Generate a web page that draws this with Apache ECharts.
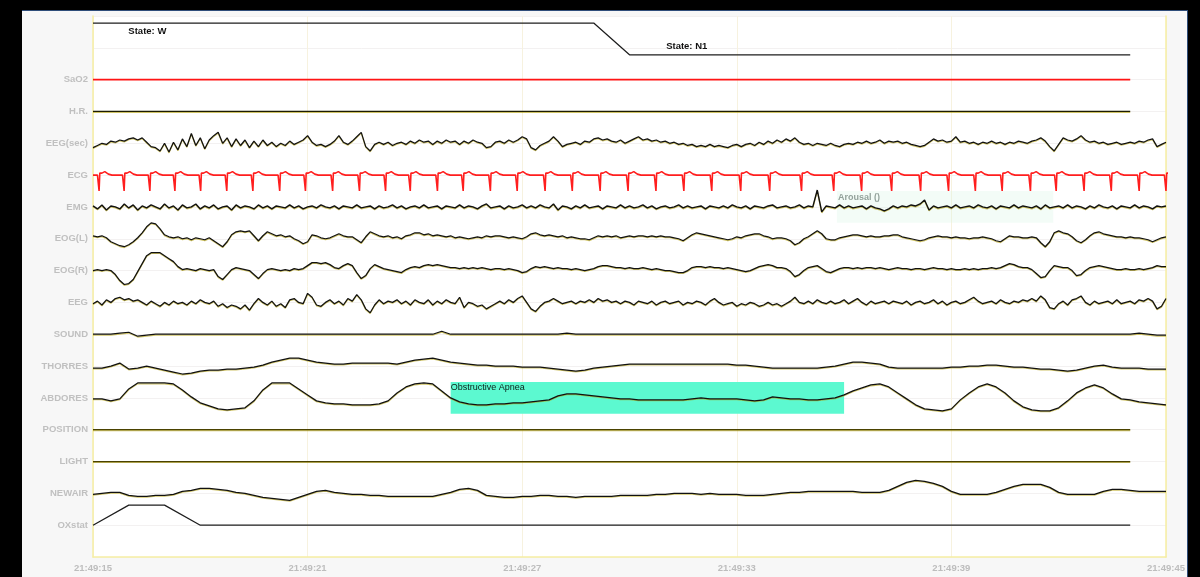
<!DOCTYPE html>
<html>
<head>
<meta charset="utf-8">
<script src="https://cdn.jsdelivr.net/npm/echarts@6/dist/echarts.min.js"></script>
<style>
  html, body { margin: 0; padding: 0; background: #000; width: 1200px; height: 577px; overflow: hidden; }
  #panel { position: absolute; left: 22px; top: 10px; width: 1166px; height: 567px; background: #f7f7f7;
           border-top: 1px solid #2f4d7a; border-right: 1px solid #2f4d7a; box-sizing: border-box; }
  #chart { position: absolute; left: 0; top: 0; width: 1188px; height: 577px; }
</style>
</head>
<body>
<div id="panel"></div>
<div id="chart"></div>
<script>
// ---- Recording window: 30 s epoch starting 21:49:15 ----
const epochStart = '21:49:15';
const epochSeconds = 30;
const timeTicks = [0, 6, 12, 18, 24, 30];

// Channel montage, top to bottom
const channelNames = ['SaO2', 'H.R.', 'EEG(sec)', 'ECG', 'EMG', 'EOG(L)', 'EOG(R)', 'EEG',
  'SOUND', 'THORRES', 'ABDORES', 'POSITION', 'LIGHT', 'NEWAIR', 'OXstat'];

// ---- 1 Hz channels (t = 0..29 s) ----
const sleepStage = ['W','W','W','W','W','W','W','W','W','W','W','W','W','W','W',
  'N1','N1','N1','N1','N1','N1','N1','N1','N1','N1','N1','N1','N1','N1','N1'];
const sao2 = [97,97,97,97,97,97,97,97,97,97,97,97,97,97,97,97,97,97,97,97,97,97,97,97,97,97,97,97,97,97];
const heartRate = [72,72,72,72,72,72,72,72,72,72,72,72,72,72,72,72,72,72,72,72,72,72,72,72,72,72,72,72,72,72];
const bodyPosition = [0,0,0,0,0,0,0,0,0,0,0,0,0,0,0,0,0,0,0,0,0,0,0,0,0,0,0,0,0,0];
const lightLevel = [0,0,0,0,0,0,0,0,0,0,0,0,0,0,0,0,0,0,0,0,0,0,0,0,0,0,0,0,0,0];
const oxStatus = [0,1,1,0,0,0,0,0,0,0,0,0,0,0,0,0,0,0,0,0,0,0,0,0,0,0,0,0,0,0];

// ---- ECG: R-peak times (s) ----
const ecgBeats = [0.17,0.87,1.59,2.29,3.01,3.74,4.47,5.22,5.94,6.70,7.45,8.18,8.87,9.63,
  10.35,11.11,11.86,12.64,13.40,14.18,14.96,15.74,16.52,17.30,18.11,18.92,19.81,20.71,
  21.49,22.33,23.14,23.92,24.67,25.42,26.21,26.93,27.71,28.47,29.25,30.00];

// ---- 8 Hz display samples (241 points, 0..30 s) ----
const eegSec = [
  -4,-2,0,-1,2,1,3,2,4,5, 3,5,1,-3,-4,-7,0,-8,1,-6, 4,-3,9,-2,5,-5,3,7,10,0,
  5,-3,4,-2,3,-4,2,-3,3,-2, 1,-3,0,-2,2,-1,1,3,7,1, -2,-1,-3,-1,2,7,1,-1,2,6,
  10,-3,-7,-1,1,-1,1,-2,0,1, -1,2,0,3,1,2,-1,2,0,3, 1,2,-1,2,0,3,1,0,-4,-3,
  1,2,0,3,1,3,6,4,-4,-6, -2,0,2,6,2,-3,-1,0,1,-1, 2,1,4,5,3,4,2,1,3,0,
  2,4,6,3,4,2,3,1,2,0, 1,-1,0,-2,-1,-3,-2,-3,-1,-3, -2,-3,-4,-2,-1,-3,-1,0,-2,1,
  -1,2,0,3,1,4,2,5,1,-1, 0,-2,0,-1,-2,0,-2,-3,-1,0, -1,1,0,2,0,1,3,0,2,1,
  2,0,1,-1,-2,-3,-2,1,4,2, 3,1,2,6,1,2,0,1,-1,1, 0,2,0,1,-1,1,0,2,1,0,
  2,3,5,2,-3,-7,-1,5,3,2, 4,7,3,1,2,0,1,-1,0,1, -1,0,1,0,2,1,3,4,-3,-1,1];

const emg = [
  1,-2,2,-3,1,0,-2,3,-1,2, -3,1,-1,2,0,-2,3,-1,1,-3, 2,-1,0,3,-2,1,-1,2,-2,0,
  1,-3,2,-1,1,0,-2,2,-1,1, -2,1,0,-1,2,-1,1,-2,0,1, -1,2,0,-1,1,-2,1,0,-1,2,
  -1,0,1,-2,1,-1,0,2,-1,1, -2,0,1,-1,2,-1,0,1,-2,1, 0,-1,2,-1,1,0,-2,1,3,-1,
  0,1,-2,1,-1,0,2,-1,1,-1, 2,0,-1,3,-3,1,0,-2,1,-1, 2,-1,0,1,-2,1,0,-1,2,-1,
  1,-1,0,2,-1,1,-2,0,1,-1, 0,2,-1,1,-1,0,1,-2,1,0, -1,1,-1,2,0,-1,1,-2,1,0,
  -1,1,2,-1,0,1,-1,0,2,-1, 1,0,17,-5,1,0,-1,2,-1,1, -1,0,1,-2,1,-1,-2,-4,-2,1,
  -1,1,0,2,1,3,7,-3,1,-1, 0,1,-1,2,-1,0,1,-1,2,0, -1,1,-2,1,0,-1,2,-1,1,0,
  -1,1,-2,2,-1,0,1,-1,2,-1, 1,0,-2,1,-1,2,0,-1,1,-2,1,0,-1,2,-1,1,0,-2,1,0,1];

const eogL = [
  3,2,3,1,-3,-5,-7,-8,-6,-3, 1,6,12,16,15,10,4,2,1,2, 0,1,-1,1,0,-1,1,-2,-5,-8,
  -3,4,7,8,7,8,3,-2,3,7, 5,3,4,2,3,0,-2,-5,-3,4, 3,1,0,1,3,5,3,2,2,-1,
  -4,2,7,5,3,2,3,1,2,0, 3,4,6,6,4,5,3,4,3,2, 3,1,2,1,0,1,2,1,3,2,
  3,3,2,1,2,1,0,2,5,6, 4,3,4,3,2,3,1,2,1,0, 0,-1,1,3,2,3,2,3,1,2,
  3,2,3,3,2,3,2,3,2,2, 1,0,-2,1,4,6,5,4,3,2, 1,0,-1,0,2,1,3,4,5,5,
  3,2,0,1,1,0,-2,-6,-4,0, 2,5,8,5,0,-1,-1,1,2,3, 4,4,3,2,3,2,2,3,3,4,
  4,2,1,0,-1,-2,-1,1,2,3, 2,2,1,2,1,1,0,1,1,2, 1,0,-2,-3,0,3,2,2,1,1,
  2,1,-4,-8,-3,6,8,6,5,2, -2,-4,-1,3,6,7,5,4,3,2, 2,1,2,1,1,0,-1,-3,-1,1,2];

const eogR = [
  0,1,0,1,0,-4,-10,-14,-13,-9, -1,7,15,18,18,18,15,12,9,4, 1,2,1,0,2,1,0,1,-6,-9,
  -4,1,3,2,1,0,-4,-8,-3,1, 2,1,0,1,0,2,1,2,5,8, 8,7,8,6,3,2,5,7,5,-2,
  -8,-5,2,6,4,2,1,0,-1,-2, 1,3,4,3,5,6,5,6,5,4, 3,3,2,3,2,3,2,3,2,1,
  2,2,1,2,1,0,-2,-1,2,4, 3,4,3,2,3,2,2,1,2,1, 0,1,2,4,5,5,4,3,3,2,
  3,2,2,3,2,1,2,1,0,0, -1,-2,-2,0,3,4,4,3,4,3, 3,2,3,2,1,0,-1,0,2,4,
  5,6,5,3,3,2,-1,-6,-4,0, 3,4,5,2,-1,-2,0,2,3,3, 2,3,2,3,3,2,3,2,1,2,
  3,2,2,1,2,2,1,2,3,2, 2,1,2,1,1,2,1,2,1,2, 2,3,2,3,5,7,6,4,3,3,
  1,-3,-7,-6,0,5,4,3,3,0, -5,-4,0,3,4,5,4,3,2,1, 1,2,1,1,2,1,2,3,5,4,4];

const eeg = [
  -1,1,-2,2,0,3,4,2,3,1, 2,0,-2,1,-1,-3,0,-2,1,-1, 0,-2,1,-1,2,0,-1,1,-3,-1,
  -4,-2,-3,-5,-2,-6,-1,3,0,-2, 1,-3,-1,-4,2,3,0,-1,7,4, -2,-3,0,2,-1,1,-2,3,1,6,
  2,-5,-8,-2,2,-1,1,0,2,-1, 1,-2,2,0,-1,2,-2,1,-1,2, 0,-1,4,-4,0,-1,-3,-2,-5,-3,
  -1,1,-1,2,0,3,5,0,-5,-7, -3,0,1,3,1,-1,0,1,-1,1, 0,2,0,3,1,2,0,1,-1,1,
  0,-2,1,0,-1,1,-2,0,1,-1, 0,1,-2,0,-1,1,0,-2,1,3, 0,-2,-1,0,-3,-1,-2,0,-1,-3,
  -2,0,-2,-1,-3,-1,1,4,0,-1, 1,-1,2,0,-1,1,-1,0,2,-1, 1,3,0,-2,1,-1,0,1,-1,1,
  0,-1,1,-2,0,1,-1,0,2,-1, 1,-2,0,1,-1,0,2,4,1,-1, 0,1,-1,2,0,-1,1,0,2,1,
  3,1,5,2,-4,-5,-1,1,-2,2, 3,5,0,-2,1,-1,0,1,-1,2, -1,0,1,-1,2,1,3,1,-5,-3,3];

// ---- 4 Hz display samples (121 points, 0..30 s) ----
const sound = [
  0,0,0,1,2,-2,-1,0,0,0, 0,0,0,0,0,0,0,0,0,0, 0,0,0,0,0,0,0,0,0,0,
  0,0,0,0,0,0,0,0,0,3, 0,0,0,0,0,0,0,0,0,0, 0,0,0,1,0,0,0,0,0,0,
  0,0,0,0,0,0,0,0,0,0, 0,0,0,0,0,0,0,0,0,0, 0,0,0,0,0,0,0,0,0,0,
  0,0,0,0,0,0,0,0,0,0, 0,0,0,0,0,0,0,0,0,0, 0,0,0,0,0,0,0,1,0,-1, -1];

const thorRes = [
  -2,-2,0,3,-3,-2,0,-2,-4,-6, -8,-7,-5,-4,-4,-3,-3,-2,-1,1, 4,6,8,8,6,4,3,2,2,3,
  3,3,3,3,2,4,6,7,8,6, 4,3,2,1,1,0,0,0,-1,-1, -1,-2,-3,-4,-5,-4,-2,-1,0,1,
  2,2,2,2,2,2,2,2,2,2, 2,2,1,1,0,-1,-2,-2,-2,-2, -2,-2,-1,0,2,4,4,3,2,-1,
  -2,-2,-2,-2,-2,-2,-1,-1,0,0, 1,1,0,-1,-1,-2,-3,-3,-4,-5, -4,-2,0,1,-1,-2,-2,-2,-3,-3, -3];

const abdRes = [
  -1,-1,-3,-1,9,15,15,15,15,14, 8,1,-5,-8,-11,-12,-11,-10,-3,8, 15,15,15,9,3,-3,-5,-6,-6,-7,
  -7,-7,-6,-3,5,11,14,15,14,7, 0,-4,-6,-7,-7,-6,-6,-5,-5,-4, -3,-2,2,4,4,3,2,1,0,-1,
  -1,-2,-2,-2,-2,-2,-2,-1,0,-1, -1,-1,-1,-2,-3,-2,1,0,-1,-1, -2,-2,-1,0,3,7,10,13,14,11,
  5,-1,-7,-11,-12,-13,-11,-2,5,11, 14,11,5,-3,-9,-12,-13,-13,-10,-3, 5,10,13,10,4,-1,-2,-4,-5,-6, -7];

const newAir = [
  -1,0,1,1,-2,-3,-3,-2,-2,-1, 2,3,5,5,4,3,1,0,-2,-4, -5,-6,-7,-4,-1,2,3,1,0,-1,
  -1,-2,-2,-3,-3,-3,-3,-3,-3,-1, 1,4,5,3,-2,-3,-4,-4,-3,-3, -2,-2,-3,-3,-4,-3,-3,-3,-3,-2,
  -2,-2,-2,-1,-1,0,0,0,-1,0, -1,-1,-1,-2,-2,-2,-1,0,1,1, 2,2,2,2,2,2,1,1,1,3,
  7,11,13,12,10,7,2,-1,-1,-1, -1,1,4,7,9,9,9,6,1,-1, -1,-1,-1,2,4,4,3,2,2,2, 2];

// ---- Scored events (start, end in s) ----
const apneaEvent = { label: 'Obstructive Apnea', start: 10.0, end: 21.0 };
const arousalEvent = { label: 'Arousal ()', start: 20.8, end: 26.85 };

// ---------------------------------------------------------------
const FONT = '"Liberation Sans", Arial, sans-serif';
const UNIT = 1 / 32;                      // trace units per row
const rowOf = name => channelNames.length - channelNames.indexOf(name);
const stageY = { W: 16.78, N1: 15.78 };   // hypnogram band above the channels

function clock(t) {
  const [h, m, s] = epochStart.split(':').map(Number);
  let tot = h * 3600 + m * 60 + s + Math.round(t);
  const p = n => String(n).padStart(2, '0');
  return p(Math.floor(tot / 3600) % 24) + ':' + p(Math.floor(tot / 60) % 60) + ':' + p(tot % 60);
}
function trace(values, step, name, gain) {
  const row = rowOf(name);
  return values.map((v, i) => [i * step, row + v * UNIT * (gain || 1)]);
}
function ecgTrace() {
  // beat morphology (time offset s, amplitude) drawn around each R time
  const shape = [[-0.045, 0], [-0.015, 1.5], [0, -16], [0.02, 2], [0.08, 2], [0.16, 3.5], [0.26, 1], [0.36, 0]];
  const row = rowOf('ECG');
  const pts = [[0, row]];
  ecgBeats.forEach(b => shape.forEach(([dt, a]) => pts.push([b + dt, row + a * UNIT])));
  return pts.filter(p => p[0] >= 0);
}

const inkStyle = {
  color: '#111111', width: 1.25,
  shadowColor: 'rgba(175,155,0,0.6)', shadowBlur: 0, shadowOffsetX: 0, shadowOffsetY: 0.8
};
function line(name, data, style, extra) {
  return Object.assign({
    name, type: 'line', data, showSymbol: false, symbol: 'none', silent: true,
    lineStyle: Object.assign({}, inkStyle, style || {}), z: 3
  }, extra || {});
}
function eventArea(ev, channel, fill, labelStyle) {
  return {
    silent: true,
    itemStyle: { color: fill },
    label: Object.assign({ show: true, position: 'insideTopLeft', fontSize: 9, fontFamily: FONT }, labelStyle),
    data: [[{ name: ev.label, xAxis: ev.start, yAxis: rowOf(channel) + 0.5 },
            { xAxis: ev.end, yAxis: rowOf(channel) - 0.5 }]]
  };
}

const series = [
  line('State', sleepStage.map((s, i) => [i, stageY[s]]), { color: '#1e1e1e', shadowColor: 'transparent' }, {
    markPoint: {
      symbol: 'circle', symbolSize: 0, silent: true,
      label: { show: true, formatter: p => p.name, color: '#111', fontSize: 9.5, fontWeight: 'bold', fontFamily: FONT },
      data: [
        { name: 'State: W', coord: [1.52, 16.53] },
        { name: 'State: N1', coord: [16.6, 16.04] }
      ]
    }
  }),
  line('SaO2', sao2.map((v, i) => [i, rowOf('SaO2') + (v - 97) * 0.1]), { color: '#ff1414', width: 1.6, shadowColor: 'transparent' }),
  line('H.R.', heartRate.map((v, i) => [i, rowOf('H.R.') + (v - 72) * 0.05]), { color: '#1c1c00' }),
  line('EEG(sec)', trace(eegSec, 0.125, 'EEG(sec)', 1.1), {}),
  line('ECG', ecgTrace(), { color: '#ff1e1e', width: 1.6, shadowColor: 'transparent' }),
  line('EMG', trace(emg, 0.125, 'EMG'), { width: 1.4 }, {
    markArea: eventArea(arousalEvent, 'EMG', 'rgba(214,244,228,0.3)',
      { color: '#93a29b', fontWeight: 'bold', offset: [-4, -3] })
  }),
  line('EOG(L)', trace(eogL, 0.125, 'EOG(L)'), {}),
  line('EOG(R)', trace(eogR, 0.125, 'EOG(R)'), {}),
  line('EEG', trace(eeg, 0.125, 'EEG', 1.3), {}),
  line('SOUND', trace(sound, 0.25, 'SOUND'), {}),
  line('THORRES', trace(thorRes, 0.25, 'THORRES'), {}),
  line('ABDORES', trace(abdRes, 0.25, 'ABDORES'), {}, {
    markArea: eventArea(apneaEvent, 'ABDORES', '#5cf9d0',
      { color: '#0c1f18', offset: [-5, -4] })
  }),
  line('POSITION', bodyPosition.map((v, i) => [i, rowOf('POSITION') + v]), { color: '#4a4200' }),
  line('LIGHT', lightLevel.map((v, i) => [i, rowOf('LIGHT') + v]), { color: '#4a4200' }),
  line('NEWAIR', trace(newAir, 0.25, 'NEWAIR'), {}),
  line('OXstat', oxStatus.map((v, i) => [i, rowOf('OXstat') + v * 0.63]), { color: '#1e1e1e', shadowColor: 'transparent' })
];

const axisYellow = '#f6eea4';
const chart = echarts.init(document.getElementById('chart'), null, { renderer: 'canvas' });
chart.setOption({
  animation: false,
  backgroundColor: 'transparent',
  grid: { left: 93, right: 18, top: 16, bottom: 20, show: true, backgroundColor: '#ffffff', borderWidth: 0 },
  xAxis: {
    type: 'value', min: 0, max: epochSeconds, interval: timeTicks[1] - timeTicks[0],
    axisLine: { show: true, lineStyle: { color: axisYellow, width: 1.5 } },
    axisTick: { show: false },
    splitLine: { show: true, lineStyle: { color: '#f7f2df', width: 1 } },
    axisLabel: {
      formatter: v => clock(v), color: '#bdbdbd', fontSize: 9.5, fontWeight: 'bold', fontFamily: FONT,
      margin: 6, showMinLabel: true, showMaxLabel: true
    }
  },
  yAxis: [{
    type: 'value', min: 0, max: 17, interval: 1,
    axisLine: { show: true, lineStyle: { color: axisYellow, width: 1.5 } },
    axisTick: { show: false },
    splitLine: { show: true, lineStyle: { color: '#f3f1f1', width: 1 } },
    axisLabel: {
      formatter: v => (v >= 1 && v <= channelNames.length) ? channelNames[channelNames.length - v] : '',
      color: '#c0c0c0', fontSize: 9.5, fontWeight: 'bold', fontFamily: FONT, margin: 5
    }
  }, {
    type: 'value', min: 0, max: 17, position: 'right',
    axisLine: { show: true, lineStyle: { color: axisYellow, width: 1.5 } },
    axisTick: { show: false }, axisLabel: { show: false }, splitLine: { show: false }
  }],
  series
});
</script>
</body>
</html>
